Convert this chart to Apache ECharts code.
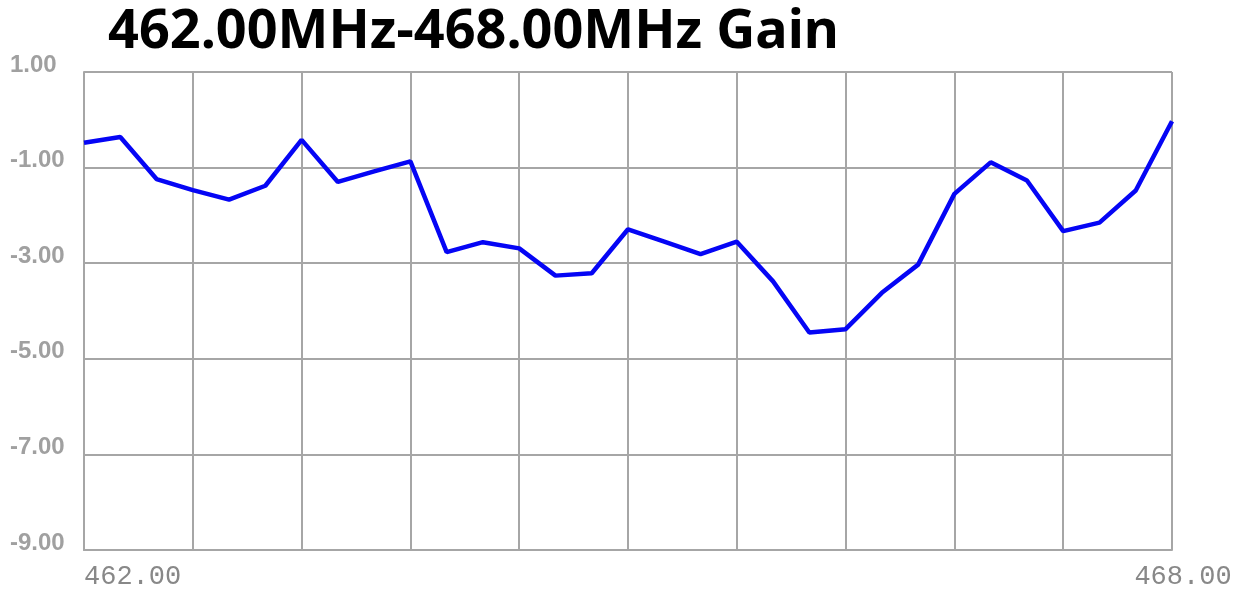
<!DOCTYPE html>
<html>
<head>
<meta charset="utf-8">
<script src="https://cdn.jsdelivr.net/npm/echarts@6/dist/echarts.min.js"></script>
<style>
html,body{margin:0;padding:0;background:#fff;}
#chart{width:1245px;height:592px;}
</style>
</head>
<body>
<div id="chart"></div>
<script>
const titleText = '462.00MHz-468.00MHz Gain';
const freqs = [462.0,462.2,462.4,462.6,462.8,463.0,463.2,463.4,463.6,463.8,
               464.0,464.2,464.4,464.6,464.8,465.0,465.2,465.4,465.6,465.8,
               466.0,466.2,466.4,466.6,466.8,467.0,467.2,467.4,467.6,467.8,468.0];
const gains = [-0.48,-0.36,-1.24,-1.47,-1.67,-1.38,-0.42,-1.30,-1.08,-0.87,
               -2.77,-2.56,-2.69,-3.26,-3.21,-2.29,-2.55,-2.81,-2.55,-3.38,
               -4.45,-4.38,-3.62,-3.03,-1.55,-0.89,-1.27,-2.33,-2.15,-1.48,-0.03];
const xTickValues = [462, 468];
const xTickLabels = ['462.00', '468.00'];
const yTickValues = [1, -1, -3, -5, -7, -9];

const gridColor = '#a6a6a6';
const chart = echarts.init(document.getElementById('chart'), null, {renderer: 'canvas'});
chart.setOption({
  animation: false,
  backgroundColor: '#ffffff',
  title: {
    text: titleText,
    left: 103,
    top: 1,
    textStyle: {fontFamily: 'Noto Sans', fontWeight: 'bold', fontSize: 54, color: '#000'}
  },
  grid: {left: 84, right: 73, top: 72, bottom: 42, containLabel: false},
  xAxis: {
    type: 'value',
    min: 462, max: 468, interval: 0.6,
    axisLine: {show: true, onZero: false, lineStyle: {color: gridColor, width: 2}},
    axisTick: {show: false},
    splitLine: {show: true, showMinLine: true, showMaxLine: true, lineStyle: {color: gridColor, width: 2}},
    axisLabel: {
      show: true,
      margin: 13,
      fontFamily: 'Liberation Mono',
      fontSize: 27,
      color: '#888888',
      alignMinLabel: 'left',
      alignMaxLabel: 'center',
      formatter: function (v) {
        if (Math.abs(v - xTickValues[0]) < 1e-6) return xTickLabels[0];
        if (Math.abs(v - xTickValues[1]) < 1e-6) return '{r|' + xTickLabels[1] + '}';
        return '';
      },
      rich: {
        r: {fontFamily: 'Liberation Mono', fontSize: 27, color: '#888888', padding: [0, 0, 0, 22]}
      }
    }
  },
  yAxis: {
    type: 'value',
    min: -9, max: 1, interval: 1,
    axisLine: {show: true, onZero: false, lineStyle: {color: gridColor, width: 2}},
    axisTick: {show: false},
    splitLine: {show: false},
    axisLabel: {
      margin: 74,
      align: 'left',
      verticalAlign: 'bottom',
      lineHeight: 14,
      fontFamily: 'Liberation Sans',
      fontWeight: 'bold',
      fontSize: 24,
      color: '#a0a0a0',
      formatter: function (v) {
        return yTickValues.some(t => Math.abs(t - v) < 1e-6) ? v.toFixed(2) : '';
      }
    }
  },
  series: [{
    type: 'line',
    data: freqs.map((f, i) => [f, gains[i]]),
    showSymbol: false,
    symbol: 'none',
    lineStyle: {color: '#0505f5', width: 4.5},
    itemStyle: {color: '#0505f5'},
    z: 5,
    markLine: {
      silent: true,
      symbol: 'none',
      label: {show: false},
      lineStyle: {color: gridColor, width: 2, type: 'solid'},
      z: 1,
      data: yTickValues.map(v => ({yAxis: v}))
    }
  }]
});
</script>
</body>
</html>
